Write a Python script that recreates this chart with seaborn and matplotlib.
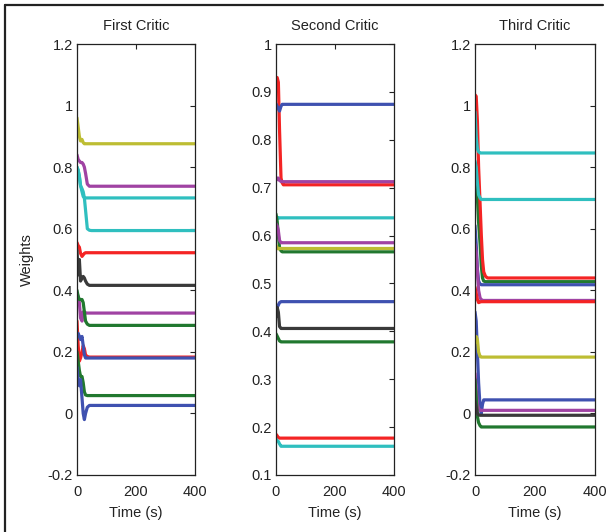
import numpy as np
import pandas as pd
import matplotlib
matplotlib.use("Agg")
import matplotlib.pyplot as plt
from matplotlib.lines import Line2D
import seaborn as sns

sns.set_style("white")
plt.rcParams['font.family'] = ['Liberation Sans', 'DejaVu Sans']

# shared time grid (s)
T = [0, 4, 8, 12, 17, 21, 25, 29, 35, 42, 49, 63, 400]

titles = ["First Critic", "Second Critic", "Third Critic"]
ylims = [(-0.2, 1.2), (0.1, 1.0), (-0.2, 1.2)]
yticks = [[-0.2, 0, 0.2, 0.4, 0.6, 0.8, 1, 1.2],
          [0.1, 0.2, 0.3, 0.4, 0.5, 0.6, 0.7, 0.8, 0.9, 1],
          [-0.2, 0, 0.2, 0.4, 0.6, 0.8, 1, 1.2]]
ytick_labels = [["-0.2", "0", "0.2", "0.4", "0.6", "0.8", "1", "1.2"],
                ["0.1", "0.2", "0.3", "0.4", "0.5", "0.6", "0.7", "0.8", "0.9", "1"],
                ["-0.2", "0", "0.2", "0.4", "0.6", "0.8", "1", "1.2"]]
xticks = [0, 200, 400]

colors = {"b": "#3f51b0", "g": "#21782f", "r": "#f42424", "c": "#2fbfbf",
          "m": "#a043a3", "y": "#bdbd33", "k": "#3a3a3a"}

# First critic weights
c1_olive = [0.96, 0.93, 0.90, 0.885, 0.89, 0.88, 0.876, 0.876, 0.876, 0.876, 0.876, 0.876, 0.876]
c1_mag1 = [0.84, 0.825, 0.82, 0.815, 0.815, 0.81, 0.80, 0.78, 0.745, 0.738, 0.738, 0.738, 0.738]
c1_cyan1 = [0.80, 0.79, 0.77, 0.74, 0.72, 0.705, 0.70, 0.70, 0.70, 0.70, 0.70, 0.70, 0.70]
c1_cyan2 = [0.80, 0.79, 0.77, 0.74, 0.73, 0.72, 0.70, 0.66, 0.60, 0.595, 0.594, 0.594, 0.594]
c1_red1 = [0.555, 0.545, 0.54, 0.52, 0.51, 0.515, 0.52, 0.522, 0.522, 0.522, 0.522, 0.522, 0.522]
c1_black = [0.53, 0.45, 0.50, 0.43, 0.44, 0.445, 0.44, 0.43, 0.42, 0.416, 0.416, 0.416, 0.416]
c1_mag2 = [0.39, 0.38, 0.36, 0.31, 0.30, 0.33, 0.33, 0.326, 0.326, 0.326, 0.326, 0.326, 0.326]
c1_green1 = [0.40, 0.38, 0.37, 0.37, 0.37, 0.36, 0.33, 0.30, 0.29, 0.286, 0.286, 0.286, 0.286]
c1_red2 = [0.30, 0.22, 0.17, 0.18, 0.20, 0.22, 0.21, 0.19, 0.185, 0.183, 0.183, 0.183, 0.183]
c1_blue1 = [0.25, 0.26, 0.25, 0.24, 0.25, 0.22, 0.19, 0.18, 0.18, 0.18, 0.18, 0.18, 0.18]
c1_green2 = [0.20, 0.17, 0.14, 0.12, 0.12, 0.10, 0.07, 0.06, 0.058, 0.058, 0.058, 0.058, 0.058]
c1_blue2 = [0.15, 0.10, 0.09, 0.11, 0.05, 0.0, -0.02, 0.0, 0.02, 0.026, 0.026, 0.026, 0.026]

# Second critic weights
c2_blue1 = [0.875, 0.87, 0.865, 0.86, 0.87, 0.874, 0.874, 0.874, 0.874, 0.874, 0.874, 0.874, 0.874]
c2_red1 = [0.93, 0.93, 0.92, 0.82, 0.72, 0.71, 0.706, 0.706, 0.706, 0.706, 0.706, 0.706, 0.706]
c2_mag1 = [0.715, 0.72, 0.72, 0.715, 0.713, 0.7125, 0.7125, 0.7125, 0.7125, 0.7125, 0.7125, 0.7125, 0.7125]
c2_cyan1 = [0.64, 0.638, 0.636, 0.637, 0.637, 0.637, 0.637, 0.637, 0.637, 0.637, 0.637, 0.637, 0.637]
c2_mag2 = [0.625, 0.62, 0.61, 0.59, 0.585, 0.585, 0.585, 0.585, 0.585, 0.585, 0.585, 0.585, 0.585]
c2_olive = [0.58, 0.575, 0.572, 0.573, 0.573, 0.573, 0.573, 0.573, 0.573, 0.573, 0.573, 0.573, 0.573]
c2_green1 = [0.645, 0.63, 0.60, 0.575, 0.568, 0.566, 0.566, 0.566, 0.566, 0.566, 0.566, 0.566, 0.566]
c2_blue2 = [0.455, 0.45, 0.455, 0.46, 0.462, 0.462, 0.462, 0.462, 0.462, 0.462, 0.462, 0.462, 0.462]
c2_black = [0.43, 0.45, 0.44, 0.41, 0.406, 0.406, 0.406, 0.406, 0.406, 0.406, 0.406, 0.406, 0.406]
c2_green2 = [0.395, 0.39, 0.385, 0.38, 0.378, 0.378, 0.378, 0.378, 0.378, 0.378, 0.378, 0.378, 0.378]
c2_red2 = [0.185, 0.182, 0.178, 0.177, 0.177, 0.177, 0.177, 0.177, 0.177, 0.177, 0.177, 0.177, 0.177]
c2_cyan2 = [0.175, 0.172, 0.17, 0.165, 0.16, 0.16, 0.16, 0.16, 0.16, 0.16, 0.16, 0.16, 0.16]

# Third critic weights
c3_red1 = [1.035, 1.03, 0.95, 0.80, 0.68, 0.58, 0.50, 0.46, 0.445, 0.44, 0.44, 0.44, 0.44]
c3_green1 = [0.80, 0.75, 0.70, 0.62, 0.55, 0.48, 0.44, 0.43, 0.428, 0.428, 0.428, 0.428, 0.428]
c3_cyan1 = [0.98, 0.90, 0.86, 0.85, 0.846, 0.846, 0.846, 0.846, 0.846, 0.846, 0.846, 0.846, 0.846]
c3_cyan2 = [0.82, 0.80, 0.75, 0.71, 0.70, 0.695, 0.695, 0.695, 0.695, 0.695, 0.695, 0.695, 0.695]
c3_blue1 = [0.61, 0.55, 0.47, 0.43, 0.42, 0.418, 0.418, 0.418, 0.418, 0.418, 0.418, 0.418, 0.418]
c3_mag1 = [0.55, 0.52, 0.46, 0.40, 0.375, 0.37, 0.367, 0.367, 0.367, 0.367, 0.367, 0.367, 0.367]
c3_red2 = [0.41, 0.39, 0.37, 0.36, 0.362, 0.363, 0.363, 0.363, 0.363, 0.363, 0.363, 0.363, 0.363]
c3_blue2 = [0.33, 0.30, 0.20, 0.10, 0.02, 0.0, 0.03, 0.044, 0.044, 0.044, 0.044, 0.044, 0.044]
c3_olive = [0.23, 0.25, 0.24, 0.20, 0.185, 0.183, 0.183, 0.183, 0.183, 0.183, 0.183, 0.183, 0.183]
c3_mag2 = [0.13, 0.08, 0.03, 0.015, 0.01, 0.01, 0.01, 0.01, 0.01, 0.01, 0.01, 0.01, 0.01]
c3_green2 = [0.11, 0.05, -0.01, -0.03, -0.04, -0.044, -0.044, -0.044, -0.044, -0.044, -0.044, -0.044, -0.044]
c3_black = [0.04, 0.02, 0.0, -0.005, -0.006, -0.006, -0.006, -0.006, -0.006, -0.006, -0.006, -0.006, -0.006]

panels = [
    [("olive", "y", c1_olive), ("mag1", "m", c1_mag1), ("cyan1", "c", c1_cyan1),
     ("cyan2", "c", c1_cyan2), ("red1", "r", c1_red1), ("black", "k", c1_black),
     ("mag2", "m", c1_mag2), ("green1", "g", c1_green1), ("red2", "r", c1_red2),
     ("blue1", "b", c1_blue1), ("green2", "g", c1_green2), ("blue2", "b", c1_blue2)],
    [("red1", "r", c2_red1), ("blue1", "b", c2_blue1), ("mag1", "m", c2_mag1),
     ("cyan1", "c", c2_cyan1), ("green1", "g", c2_green1), ("mag2", "m", c2_mag2),
     ("olive", "y", c2_olive), ("blue2", "b", c2_blue2), ("black", "k", c2_black),
     ("green2", "g", c2_green2), ("red2", "r", c2_red2), ("cyan2", "c", c2_cyan2)],
    [("green1", "g", c3_green1), ("red1", "r", c3_red1), ("cyan1", "c", c3_cyan1),
     ("cyan2", "c", c3_cyan2), ("blue1", "b", c3_blue1), ("mag1", "m", c3_mag1),
     ("red2", "r", c3_red2), ("blue2", "b", c3_blue2), ("olive", "y", c3_olive),
     ("mag2", "m", c3_mag2), ("green2", "g", c3_green2), ("black", "k", c3_black)],
]

fig = plt.figure(figsize=(6.12, 5.32), dpi=100)
W, H = 612.0, 532.0
boxes = [(77, 195), (276, 394), (475, 595)]
top_px, bot_px = 44, 475

for i, (x0, x1) in enumerate(boxes):
    ax = fig.add_axes([x0 / W, (H - bot_px) / H, (x1 - x0) / W, (bot_px - top_px) / H])
    rows = []
    for name, col, vals in panels[i]:
        for t, v in zip(T, vals):
            rows.append({"t": t, "w": v, "series": name})
    df = pd.DataFrame(rows)
    pal = {name: colors[col] for name, col, _ in panels[i]}
    order = [name for name, _, _ in panels[i]]
    sns.lineplot(data=df, x="t", y="w", hue="series", hue_order=order, palette=pal,
                 estimator=None, sort=False, legend=False, lw=2.3, ax=ax)
    ax.set_xlim(0, 400)
    ax.set_ylim(*ylims[i])
    ax.set_xticks(xticks)
    ax.set_xticklabels([str(x) for x in xticks])
    ax.set_yticks(yticks[i])
    ax.set_yticklabels(ytick_labels[i])
    ax.tick_params(axis="both", direction="in", length=3.5, width=0.8, top=True, right=True,
                   labelsize=10.5, colors="#222222", labelcolor="#222222")
    ax.tick_params(axis="y", pad=3)
    ax.tick_params(axis="x", pad=7)
    for s in ax.spines.values():
        s.set_visible(True)
        s.set_color("#222222")
        s.set_linewidth(0.9)
    ax.set_title(titles[i], fontsize=10.5, pad=10, color="#222222")
    ax.set_xlabel("Time (s)", fontsize=10.5, color="#222222", labelpad=5)
    if i == 0:
        ax.set_ylabel("Weights", fontsize=10.5, color="#222222", labelpad=10)
    else:
        ax.set_ylabel("")

# partial frame around the figure (top and left)
fig.add_artist(Line2D([5 / W, 603 / W], [1 - 5 / H, 1 - 5 / H], color="#222222", lw=1.6,
                      transform=fig.transFigure))
fig.add_artist(Line2D([5 / W, 5 / W], [1 - 5 / H, 0], color="#222222", lw=1.6,
                      transform=fig.transFigure))

fig.savefig("out.png", dpi=100, facecolor="white")
